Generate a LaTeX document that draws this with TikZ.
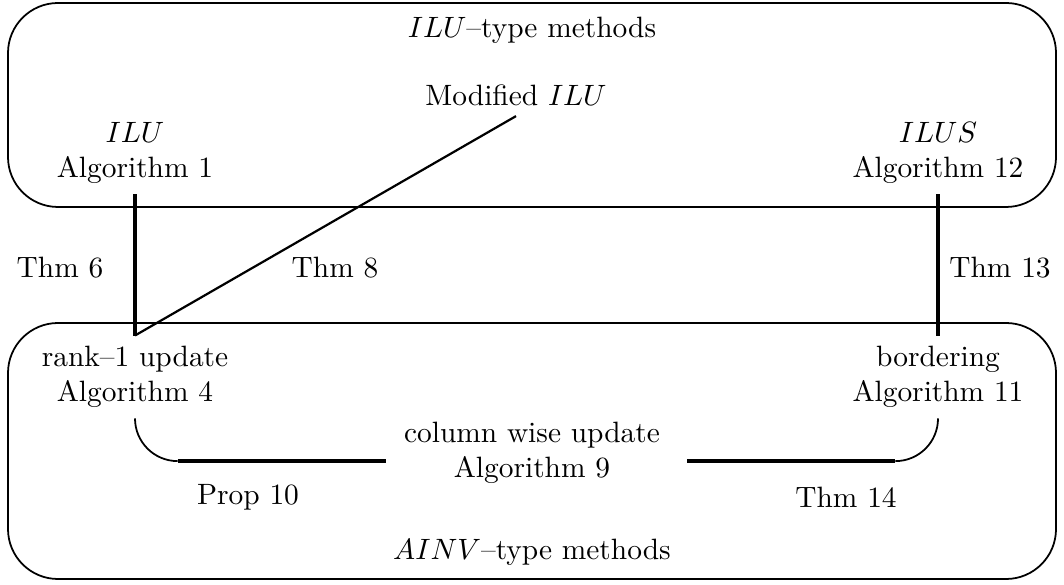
\documentclass[tikz,border=0pt]{standalone}
\usepackage{amsmath}
\usepackage{tikz}
\usetikzlibrary{positioning, calc}

\tikzset{
  box/.style={line width=0.6pt, rounded corners=17pt},
  txt/.style={align=center, inner sep=3.4pt},
  vline/.style={line width=1.4pt},
  hline/.style={line width=1.4pt},
  diag/.style={line width=0.75pt},
  curveline/.style={line width=0.6pt}
}

\begin{document}
\begin{tikzpicture}[x=0.34pt, y=-0.34pt]
  \useasboundingbox (0,0) rectangle (1064,585);
  % the two families
  \draw[box] (8,3) rectangle (1056,207);
  \draw[box] (8,323) rectangle (1056,579);
  \node[txt] (ilutype) at (532,30) {$ILU$--type methods};
  \node[txt] (ainvtype) at (532,552) {$AINV$--type methods};
  % algorithms
  \node[txt] (ilu) at (135,153) {$ILU$\\Algorithm 1};
  \node[txt] (ilus) at (938,153) {$ILUS$\\Algorithm 12};
  \node[txt] (milu) at (516,95) {Modified $ILU$};
  \node[txt] (rank) at (135,377) {rank--1 update\\Algorithm 4};
  \node[txt] (bord) at (938,377) {bordering\\Algorithm 11};
  \node[txt] (col) at (532,453) {column wise update\\Algorithm 9};
  % links
  \draw[vline] (ilu.south) -- (rank.north);
  \draw[vline] (ilus.south) -- (bord.north);
  \draw[diag] (rank.north) -- (milu.south);
  \draw[curveline] (rank.south) arc[start angle=180, end angle=270, radius=14.5pt] coordinate (pl);
  \draw[hline] (pl) -- ($(pl -| col.west)-(7,0)$);
  \draw[curveline] (bord.south) arc[start angle=0, end angle=-90, radius=14.5pt] coordinate (pr);
  \draw[hline] (pr) -- ($(pr -| col.east)+(16,0)$);
  % labels
  \node[txt] (thm6) at (60,268) {Thm 6};
  \node[txt] (thm8) at (335,268) {Thm 8};
  \node[txt] (thm13) at (1000,268) {Thm 13};
  \node[txt] (prop10) at (248,497) {Prop 10};
  \node[txt] (thm14) at (846,497) {Thm 14};
\end{tikzpicture}
\end{document}
